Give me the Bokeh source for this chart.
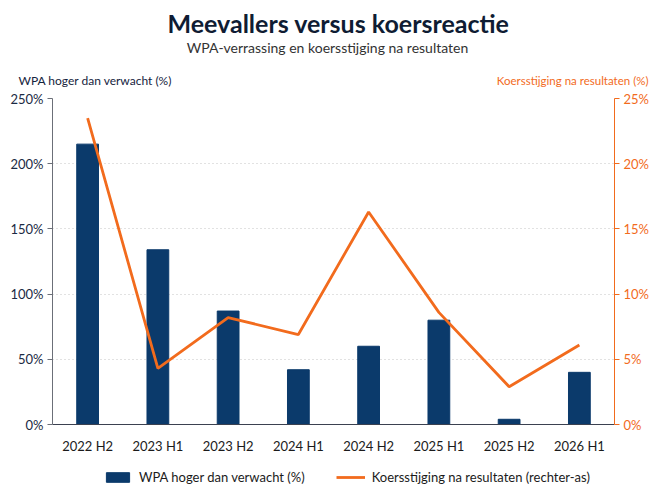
from bokeh.plotting import figure
from bokeh.layouts import column, row
from bokeh.models import (Range1d, LinearAxis, FixedTicker, PrintfTickFormatter,
                          Label, Legend, LegendItem, ColumnDataSource, FactorRange)
from bokeh.embed import file_html
from bokeh.resources import INLINE

periods = ["2022 H2", "2023 H1", "2023 H2", "2024 H1", "2024 H2", "2025 H1", "2025 H2", "2026 H1"]
wpa_surprise = [215, 134, 87, 42, 60, 80, 4, 40]
price_rise = [23.5, 4.3, 8.2, 6.9, 16.3, 8.6, 2.9, 6.1]
left_ticks = [0, 50, 100, 150, 200, 250]
right_ticks = [0, 5, 10, 15, 20, 25]

NAVY = "#0b3a6b"
ORANGE = "#f26b1d"
FONT = "Lato"
W = 651

src = ColumnDataSource(dict(period=periods, wpa=wpa_surprise, rise=price_rise))

def bare(fig):
    fig.outline_line_color = None
    fig.xgrid.grid_line_color = None
    fig.ygrid.grid_line_color = None
    return fig

# ---- header with title, subtitle and axis captions
head = bare(figure(width=W, height=90, output_backend="svg", toolbar_location=None,
                   x_range=Range1d(0, W), y_range=Range1d(0, 90),
                   x_axis_location=None, y_axis_location=None,
                   min_border_left=0, min_border_right=0, min_border_top=0, min_border_bottom=0))

def add_label(fig, text, x, y, size, color, align="left", style="normal"):
    fig.add_layout(Label(x=x, y=y, text=text,
                         text_font=FONT, text_font_size=size, text_color=color,
                         text_align=align, text_baseline="middle", text_font_style=style))

add_label(head, "Meevallers versus koersreactie", 338, 68, "25px", "#0f1c33", "center", "bold")
add_label(head, "WPA-verrassing en koersstijging na resultaten", 327, 43, "14px", "#333333", "center")
add_label(head, "WPA hoger dan verwacht (%)", 18, 10, "12px", "#15233d")
add_label(head, "Koersstijging na resultaten (%)", 648, 10, "11.5px", ORANGE, "right")

# ---- main chart
p = figure(width=W, height=366, x_range=periods, y_range=Range1d(0, 250),
           output_backend="svg", toolbar_location=None,
           min_border_left=52, min_border_right=33, min_border_top=8, min_border_bottom=28)
p.x_range.range_padding = 0
p.outline_line_color = None
p.extra_y_ranges = {"right": Range1d(0, 25)}

bars = p.vbar(x="period", top="wpa", width=0.31, source=src, color=NAVY)
line = p.line(x="period", y="rise", source=src, y_range_name="right",
              line_color=ORANGE, line_width=2.8)

p.xgrid.grid_line_color = None
p.ygrid.ticker = FixedTicker(ticks=left_ticks)
p.ygrid.grid_line_color = "#c4c4c4"
p.ygrid.grid_line_dash = "1 3"
p.ygrid.grid_line_width = 1

ya = p.yaxis[0]
ya.ticker = FixedTicker(ticks=left_ticks)
ya.formatter = PrintfTickFormatter(format="%d%%")
ya.axis_line_color = "#6b6f78"
ya.major_tick_line_color = "#6b6f78"
ya.major_tick_out = 5
ya.major_tick_in = 0
ya.minor_tick_line_color = None
ya.major_label_standoff = 4
ya.major_label_text_font = FONT
ya.major_label_text_font_size = "13px"
ya.major_label_text_color = "#1b2a44"

xa = p.xaxis[0]
xa.axis_line_color = "#3b4150"
xa.major_tick_line_color = None
xa.minor_tick_line_color = None
xa.major_label_text_font = FONT
xa.major_label_text_font_size = "13px"
xa.major_label_text_color = "#1b1b1b"
xa.major_label_standoff = 7

ra = LinearAxis(y_range_name="right", ticker=FixedTicker(ticks=right_ticks),
                formatter=PrintfTickFormatter(format="%d%%"))
ra.axis_line_color = ORANGE
ra.major_tick_line_color = ORANGE
ra.major_tick_out = 5
ra.major_tick_in = 0
ra.minor_tick_line_color = None
ra.major_label_standoff = 4
ra.major_label_text_font = FONT
ra.major_label_text_font_size = "13px"
ra.major_label_text_color = ORANGE
p.add_layout(ra, "right")

# ---- legend strip (series drawn out of view, only their legend glyphs show)
leg = bare(figure(width=W, height=36, output_backend="svg", toolbar_location=None,
                  x_range=FactorRange(factors=periods), y_range=Range1d(1000, 1001),
                  x_axis_location=None, y_axis_location=None,
                  min_border_left=0, min_border_right=0, min_border_top=0, min_border_bottom=0))
lb = leg.vbar(x="period", top="wpa", width=0.31, source=src, color=NAVY)
ll = leg.line(x="period", y="rise", source=src, line_color=ORANGE, line_width=2.8)
legend = Legend(items=[LegendItem(label="WPA hoger dan verwacht (%)", renderers=[lb]),
                       LegendItem(label="Koersstijging na resultaten (rechter-as)", renderers=[ll])],
                orientation="horizontal", location=(103, 7), border_line_color=None,
                background_fill_alpha=0, label_text_font=FONT, label_text_font_size="13px",
                label_text_color="#1b1b1b", glyph_width=29, glyph_height=12,
                label_standoff=7, spacing=31, padding=0, margin=0)
leg.add_layout(legend, "center")

layout = column(row(head), p, row(leg), spacing=0)
open("out.html", "w").write(file_html(layout, INLINE))
